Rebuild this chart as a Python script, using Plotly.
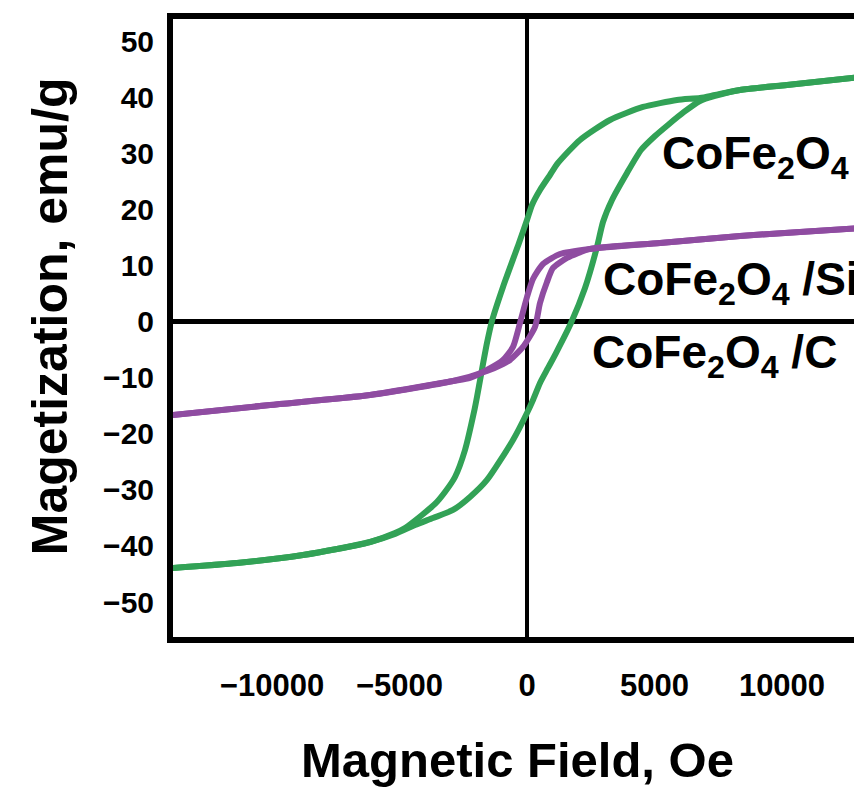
import plotly.graph_objects as go

# CoFe2O4 hysteresis loop (field in Oe, magnetization in emu/g)
cfo_down_H = [13137, 10196, 8353, 7373, 6784, 5882, 4549, 3255, 2078, 1216, 902, 510, 196, 0, -314, -941,
              -1373, -1569, -1804, -1961, -2078, -2431, -2824, -3216, -3608, -4118, -4784, -5176, -6157,
              -7451, -8784, -11373, -13922]
cfo_down_M = [43.75, 42.32, 41.43, 40.54, 40.0, 39.64, 38.39, 36.07, 32.5, 28.39, 26.25, 23.57, 20.89, 18.21,
              14.11, 6.25, 0.18, -3.75, -9.46, -13.39, -16.07, -22.86, -27.68, -30.36, -32.5, -34.46, -36.79,
              -37.68, -39.29, -40.54, -41.61, -43.04, -43.93]
cfo_up_H = [-13922, -11373, -8784, -7451, -6157, -5176, -4392, -3686, -2902, -2235, -1569, -549, 0, 235, 510,
            824, 1137, 1725, 2275, 2745, 2980, 3333, 3922, 4471, 5020, 5529, 6157, 6784, 7373, 8353, 10196, 13137]
cfo_up_M = [-43.93, -43.04, -41.61, -40.54, -39.29, -37.86, -36.25, -35.0, -33.57, -31.25, -28.21, -21.07,
            -16.25, -13.93, -10.89, -8.21, -5.54, -0.18, 6.07, 13.39, 17.86, 21.79, 26.61, 30.71, 33.21, 35.18,
            37.5, 39.46, 40.36, 41.43, 42.32, 43.75]

# CoFe2O4/SiO2 hysteresis loop
sio_down_H = [13137, 10706, 8353, 5216, 2471, 1294, 627, 235, 0, -275, -549, -941, -1569,
              -2235, -2902, -6157, -10078, -13922]
sio_down_M = [16.79, 16.07, 15.36, 14.11, 13.04, 12.14, 10.36, 7.68, 4.46, -0.18, -4.46, -6.79, -8.57,
              -10.0, -10.54, -13.04, -14.82, -16.61]
sio_up_H = [-13922, -10078, -6157, -2902, -1569, -941, -667, -157, 314, 510, 784, 1020, 1569, 2471,
            5216, 8353, 10706, 13137]
sio_up_M = [-16.61, -14.82, -13.04, -10.54, -8.75, -7.5, -6.79, -4.46, -0.89, 3.39, 7.14, 9.64, 11.43, 13.04,
            14.11, 15.36, 16.07, 16.79]

x_ticks = [-10000, -5000, 0, 5000, 10000]
x_tick_text = ["\u221210000", "\u22125000", "0", "5000", "10000"]
y_ticks = [-50, -40, -30, -20, -10, 0, 10, 20, 30, 40, 50]

GREEN = "#32a256"
PURPLE = "#8f4ca1"
FONT = "Arial, Liberation Sans, sans-serif"

fig = go.Figure()
for hx, my, col, nm in [
    (cfo_down_H, cfo_down_M, GREEN, "CoFe2O4"),
    (cfo_up_H, cfo_up_M, GREEN, "CoFe2O4"),
    (sio_down_H, sio_down_M, PURPLE, "CoFe2O4/SiO2"),
    (sio_up_H, sio_up_M, PURPLE, "CoFe2O4/SiO2"),
]:
    fig.add_trace(go.Scatter(x=hx, y=my, mode="lines", name=nm, showlegend=False,
                             line=dict(color=col, width=6, shape="spline", smoothing=0.6)))

labels = [
    ("CoFe<sub>2</sub>O<sub>4</sub>", 5216, 29.6),
    ("CoFe<sub>2</sub>O<sub>4</sub> /SiO<sub>2</sub>", 2902, 7.05),
    ("CoFe<sub>2</sub>O<sub>4</sub> /C", 2470, -5.9),
]
for txt, xh, ym in labels:
    fig.add_annotation(x=xh, y=ym, text="<b>" + txt + "</b>", showarrow=False,
                       xanchor="left", yanchor="middle",
                       font=dict(family=FONT, size=46, color="black"))

# y-axis title placed as rotated text left of the tick labels
fig.add_annotation(xref="paper", yref="paper", x=-0.1785, y=0.519,
                   text="<b>Magetization, emu/g</b>", textangle=-90, showarrow=False,
                   xanchor="center", yanchor="middle",
                   font=dict(family=FONT, size=50, color="black"))

fig.update_layout(
    width=854, height=779,
    margin=dict(l=165, r=0, t=11, b=150),
    paper_bgcolor="white", plot_bgcolor="white",
    font=dict(family=FONT, color="black"),
    xaxis=dict(range=[-13882, 13137], tickvals=x_ticks, ticktext=x_tick_text, showgrid=False,
               zeroline=True, zerolinecolor="black", zerolinewidth=4,
               showline=True, linecolor="black", linewidth=6, mirror=True,
               ticks="", ticklabelstandoff=16,
               tickfont=dict(family=FONT, size=31, color="black", weight="bold"),
               title=dict(text="<b>Magnetic Field, Oe</b>", standoff=44,
                          font=dict(family=FONT, size=49, color="black"))),
    yaxis=dict(range=[-56.25, 54.1], tickvals=y_ticks, showgrid=False,
               zeroline=True, zerolinecolor="black", zerolinewidth=5,
               showline=True, linecolor="black", linewidth=6, mirror=False,
               ticks="", ticklabelstandoff=7,
               tickfont=dict(family=FONT, size=30, color="black", weight="bold")),
)

fig.write_html("out.html")
